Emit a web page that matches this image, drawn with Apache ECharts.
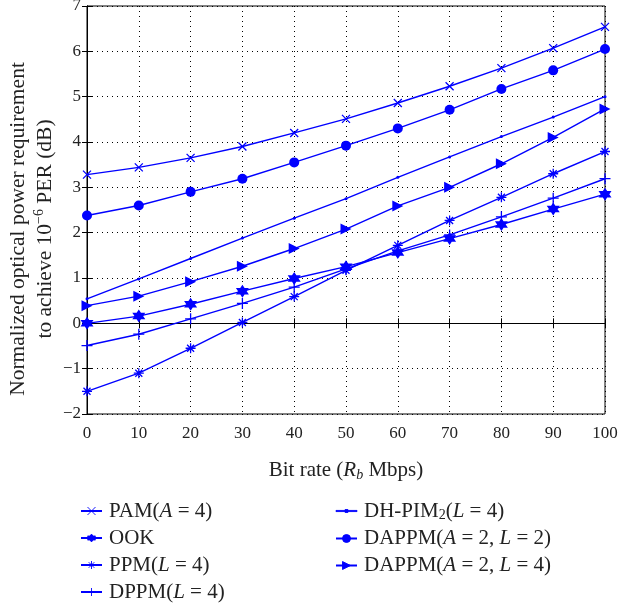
<!DOCTYPE html>
<html><head><meta charset="utf-8">
<script src="https://cdn.jsdelivr.net/npm/echarts@6/dist/echarts.min.js"></script>
<style>html,body{margin:0;padding:0;background:#fff}#c{width:621px;height:604px}</style>
</head><body><div id="c"></div>
<script>
const bitRates = [0,10,20,30,40,50,60,70,80,90,100];
const yTicks = [-2,-1,0,1,2,3,4,5,6,7];
const pam = [3.28,3.44,3.65,3.90,4.20,4.51,4.86,5.23,5.63,6.07,6.54];
const ook = [0.00,0.16,0.42,0.71,0.99,1.25,1.56,1.87,2.18,2.52,2.85];
const ppm = [-1.50,-1.10,-0.55,0.02,0.59,1.17,1.72,2.27,2.78,3.30,3.79];
const dppm = [-0.49,-0.24,0.10,0.44,0.80,1.20,1.60,1.95,2.35,2.76,3.19];
const dhpim = [0.54,0.98,1.43,1.88,2.32,2.75,3.22,3.67,4.12,4.55,5.00];
const dappm22 = [2.38,2.60,2.90,3.19,3.55,3.92,4.30,4.71,5.17,5.58,6.05];
const dappm24 = [0.39,0.60,0.92,1.26,1.65,2.08,2.59,3.00,3.52,4.10,4.73];
const names = ['PAM(A = 4)','OOK','PPM(L = 4)','DPPM(L = 4)','DH-PIM2(L = 4)','DAPPM(A = 2, L = 2)','DAPPM(A = 2, L = 4)'];
const richNames = {
  'PAM(A = 4)': 'PAM({i|A} = 4)',
  'OOK': 'OOK',
  'PPM(L = 4)': 'PPM({i|L} = 4)',
  'DPPM(L = 4)': 'DPPM({i|L} = 4)',
  'DH-PIM2(L = 4)': 'DH-PIM{sub|2}({i|L} = 4)',
  'DAPPM(A = 2, L = 2)': 'DAPPM({i|A} = 2, {i|L} = 2)',
  'DAPPM(A = 2, L = 4)': 'DAPPM({i|A} = 2, {i|L} = 4)'
};
const FONT = 'Liberation Serif';
const BLUE = '#0000ff';
const TXT = '#222';
const pts = arr => bitRates.map((x,i)=>[x,arr[i]]);

const sym = {
  x: 'path://M0,0L10,10M10,0L0,10',
  hex: 'path://M0,-10L8.66,5L-8.66,5ZM0,10L-8.66,-5L8.66,-5Z',
  ast: 'path://M0,-10L0,10M-10,0L10,0M-7,-7L7,7M-7,7L7,-7',
  plus: 'path://M0,-10L0,10M-10,0L10,0',
  tri: 'path://M0,0L10,6L0,12Z',
  dotLegend: 'path://M0,4.4L22,4.4L22,5.6L0,5.6ZM9.5,3.5L12.5,3.5L12.5,6.5L9.5,6.5Z'
};
function ser(name, data, symbol, size, stroke) {
  return {
    name, type: 'line', data: pts(data), symbol, symbolSize: size, clip: false,
    lineStyle: {color: BLUE, width: 1.4},
    itemStyle: {color: BLUE, borderColor: BLUE, borderWidth: stroke ? 1.3 : 0},
    emphasis: {disabled: true}, animation: false
  };
}
const series = [
  ser(names[0], pam, sym.x, 8, true),
  ser(names[1], ook, sym.hex, 13, false),
  ser(names[2], ppm, sym.ast, 10, true),
  ser(names[3], dppm, sym.plus, 11, true),
  ser(names[4], dhpim, 'circle', 3, false),
  ser(names[5], dappm22, 'circle', 10, false),
  ser(names[6], dappm24, sym.tri, 11, false)
];
const legText = {
  fontFamily: FONT, fontSize: 21, color: TXT, lineHeight: 22, padding: [0,0,0,2],
  rich: {
    i: {fontFamily: FONT, fontSize: 21, fontStyle: 'italic', color: TXT},
    sub: {fontFamily: FONT, fontSize: 14, color: TXT, padding: [9,0,0,0]}
  }
};
const legBase = {
  orient: 'vertical', itemWidth: 21, itemHeight: 10, itemGap: 5, padding: 0,
  height: 110,
  itemStyle: {borderWidth: 0.9},
  textStyle: legText, formatter: n => richNames[n], selectedMode: false
};
const axisLbl = {fontFamily: FONT, fontSize: 17, color: TXT};
const option = {
  backgroundColor: '#fff',
  animation: false,
  grid: {left: 87, right: 16, top: 6, bottom: 190, show: true, borderColor: '#000', borderWidth: 1,
    outerBoundsMode: 'none', containLabel: false},
  legend: [
    Object.assign({}, legBase, {left: 80, top: 500, data: names.slice(0,4)}),
    Object.assign({}, legBase, {left: 335, top: 500, data: [
      {name: names[4], icon: sym.dotLegend}, names[5], names[6]]})
  ],
  xAxis: [{
    type: 'value', min: 0, max: 100, interval: 10,
    name: 'Bit rate ({i|R}{sub|b} Mbps)', nameLocation: 'middle', nameGap: 45,
    nameTextStyle: {fontFamily: FONT, fontSize: 21, color: TXT,
      rich: {i: {fontFamily: FONT, fontSize: 21, fontStyle: 'italic', color: TXT},
             sub: {fontFamily: FONT, fontSize: 14, fontStyle: 'italic', color: TXT, padding: [9,0,0,0]}}},
    axisLine: {show: true, lineStyle: {color: '#000', width: 1}},
    axisTick: {show: true, inside: true, length: 5, lineStyle: {color: '#000'}},
    axisLabel: Object.assign({margin: 11}, axisLbl),
    splitLine: {show: true, lineStyle: {color: '#000', type: [1,4], width: 1}}
  }, {
    type: 'value', position: 'top', min: 0, max: 100, interval: 10,
    axisLine: {show: true, lineStyle: {color: '#000'}},
    axisTick: {show: true, inside: true, length: 5, lineStyle: {color: '#000'}},
    axisLabel: {show: false}, splitLine: {show: false}
  }],
  yAxis: [{
    type: 'value', min: -2, max: 7, interval: 1,
    name: 'Normalized optical power requirement\nto achieve 10{sup|−6} PER (dB)',
    nameLocation: 'middle', nameGap: 28, nameMoveOverlap: false,
    nameTextStyle: {fontFamily: FONT, fontSize: 21.5, color: TXT, lineHeight: 27, align: 'center',
      padding: [0,38,0,0],
      rich: {sup: {fontFamily: FONT, fontSize: 14, color: TXT, verticalAlign: 'top'}}},
    axisLine: {show: true, lineStyle: {color: '#000', width: 1}},
    axisTick: {show: true, inside: true, length: 5, lineStyle: {color: '#000'}},
    axisLabel: Object.assign({margin: 6, formatter: v => String(v).replace('-', '−')}, axisLbl),
    splitLine: {show: true, lineStyle: {color: '#000', type: [1,4], width: 1}}
  }, {
    type: 'value', position: 'right', min: -2, max: 7, interval: 1,
    axisLine: {show: true, lineStyle: {color: '#000'}},
    axisTick: {show: true, inside: true, length: 5, lineStyle: {color: '#000'}},
    axisLabel: {show: false}, splitLine: {show: false}
  }],
  series
};
echarts.init(document.getElementById('c')).setOption(option);
</script>
</body></html>
